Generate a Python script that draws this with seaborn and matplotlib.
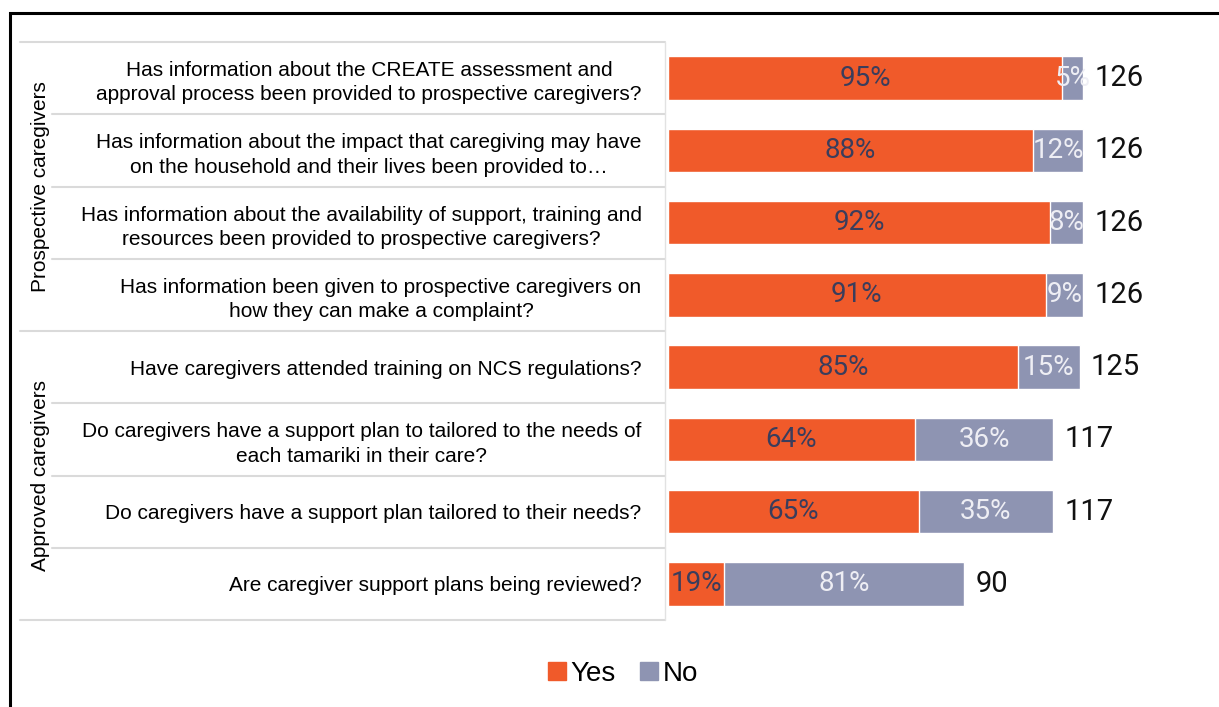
import matplotlib
matplotlib.use("Agg")
import matplotlib.pyplot as plt
import matplotlib.transforms as mtransforms
from matplotlib.lines import Line2D
from matplotlib.patches import Rectangle
import seaborn as sns

questions = [
    "Has information about the CREATE assessment and\napproval process been provided to prospective caregivers?",
    "Has information about the impact that caregiving may have\non the household and their lives been provided to\u2026",
    "Has information about the availability of support, training and\nresources been provided to prospective caregivers?",
    "Has information been given to prospective caregivers on\nhow they can make a complaint?",
    "Have caregivers attended training on NCS regulations?",
    "Do caregivers have a support plan to tailored to the needs of\neach tamariki in their care?",
    "Do caregivers have a support plan tailored to their needs?",
    "Are caregiver support plans being reviewed?",
]
yes_pct = [95, 88, 92, 91, 85, 64, 65, 19]
no_pct = [5, 12, 8, 9, 15, 36, 35, 81]
totals = [126, 126, 126, 126, 125, 117, 117, 90]
groups = ["Prospective caregivers", "Approved caregivers"]
group_rows = [(0, 3), (4, 7)]

ORANGE = "#F05A2A"
GREY = "#8E94B2"
W, H = 1219, 707

yes_n = [t * p / 100 for t, p in zip(totals, yes_pct)]

sns.set_theme(style="white")
plt.rcParams["font.family"] = ["Liberation Sans", "DejaVu Sans"]

fig = plt.figure(figsize=(W / 100, H / 100), dpi=100)
ax = fig.add_axes([668 / W, (H - 620) / H, (1199 - 668) / W, 578 / H])

sns.barplot(x=totals, y=questions, color=GREY, saturation=1, width=0.6, orient="h", ax=ax)
sns.barplot(x=yes_n, y=questions, color=ORANGE, saturation=1, width=0.6, orient="h", ax=ax)

ax.set_xlim(0, 531 / 3.294)
ax.set_xticks([])
ax.set_xlabel("")
ax.set_ylabel("")
for s in ax.spines.values():
    s.set_visible(False)
ax.tick_params(axis="y", length=0, pad=19)
for lbl in ax.get_yticklabels():
    lbl.set_fontsize(15)
    lbl.set_multialignment("center")
    lbl.set_linespacing(1.35)
    lbl.set_color("black")

# totals at the end of each bar
ax.bar_label(ax.containers[0], labels=[str(t) for t in totals], padding=8,
             fontsize=21, color="#111111", family="Roboto")
# yes percentages
ax.bar_label(ax.containers[1], labels=[f"{p}%" for p in yes_pct], label_type="center",
             fontsize=20, color="#3A3D5C", family="Roboto")
# no percentages
for i, (yn, t, p) in enumerate(zip(yes_n, totals, no_pct)):
    ax.text(yn + (t - yn) / 2, i, f"{p}%", ha="center", va="center",
            fontsize=20, color="#EEEEF4", family="Roboto")

# separators in the label area
trans = mtransforms.blended_transform_factory(fig.transFigure, ax.transData)
for b in range(len(questions) + 1):
    y = b - 0.5
    x0 = 20 / W if b in (0, 4, 8) else 52 / W
    ax.add_line(Line2D([x0, 665 / W], [y, y], transform=trans, color="#DADADA",
                       lw=1.5, clip_on=False))
ax.add_line(Line2D([665 / W, 665 / W], [-0.5, 7.5], transform=trans, color="#E2E2E2",
                   lw=1, clip_on=False))

for name, (a, b) in zip(groups, group_rows):
    ax.text(41 / W, (a + b) / 2, name, transform=trans, rotation=90, ha="center",
            va="center", fontsize=15, color="black")

handles = [Line2D([], [], marker="s", ls="", markersize=13, color=ORANGE, label="Yes"),
           Line2D([], [], marker="s", ls="", markersize=13, color=GREY, label="No")]
fig.legend(handles=handles, loc="center", bbox_to_anchor=(622 / W, (H - 674) / H), ncol=2,
           frameon=False, fontsize=20, handletextpad=0.1, columnspacing=0.8,
           handlelength=0.8, labelcolor="black")

fig.add_artist(Rectangle((10 / W, -0.1), 1.2, (H - 13) / H + 0.1, transform=fig.transFigure,
                         fill=False, edgecolor="black", lw=2.2))

fig.savefig("out.png", dpi=100)
